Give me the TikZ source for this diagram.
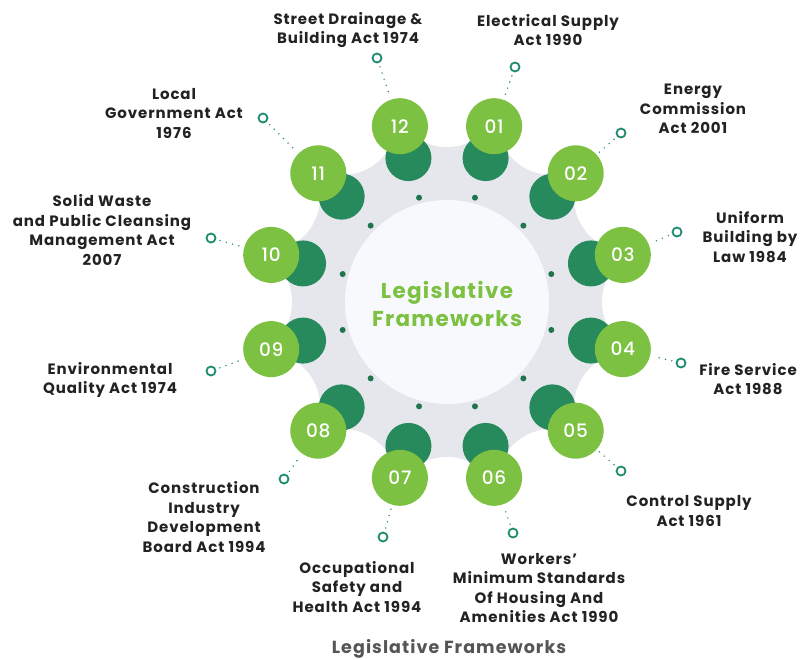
\documentclass[tikz,border=0pt]{standalone}
\usepackage{fontspec}
\usetikzlibrary{calc}
\setmainfont{Poppins}
\newfontfamily\lblfont{Poppins}[LetterSpace=6]
\newfontfamily\numfont{Poppins Medium}[LetterSpace=4]
\definecolor{lgreen}{HTML}{7DC142}
\definecolor{dgreen}{HTML}{268A5C}
\definecolor{gearg}{HTML}{E5E7ED}
\definecolor{innerw}{HTML}{F7F9FC}
\definecolor{teal}{HTML}{1F8C6F}
\definecolor{txt}{HTML}{222222}
\definecolor{titleg}{HTML}{555555}
\tikzset{
  darkc/.style={circle,fill=dgreen,minimum size=46pt,inner sep=0pt},
  lightc/.style={circle,fill=lgreen,minimum size=56pt,inner sep=0pt,text=white,font=\numfont\fontsize{18.5}{18.5}\selectfont},
  ringc/.style={circle,draw=teal,line width=1.8pt,fill=white,minimum size=9pt,inner sep=0pt},
  leader/.style={teal,line width=1.6pt,line cap=round,dash pattern=on 0pt off 6.5pt,shorten <=4pt,shorten >=3pt},
  lbl/.style={align=center,text=txt,font=\lblfont\bfseries\fontsize{15}{19.5}\selectfont},
  smalldot/.style={circle,fill=dgreen!85!black,minimum size=6pt,inner sep=0pt}
}
\begin{document}
\begin{tikzpicture}[x=1pt,y=-1pt]
\useasboundingbox (0,0) rectangle (810,659);
\coordinate (c) at (447,302);
% gear
\fill[gearg] (c) circle (178);
\foreach \a in {0,30,...,330}{
  \fill[white] ($(c)+({210*cos(\a)},{-210*sin(\a)})$) circle (55);
}
\fill[innerw] (c) circle (102);
\foreach \a in {15,45,...,345}{
  \node[smalldot] at ($(c)+({108*cos(\a)},{-108*sin(\a)})$) {};
}
% circles
\foreach \n/\a in {01/75,02/45,03/15,04/-15,05/-45,06/-75,07/-105,08/-135,09/-165,10/165,11/135,12/105}{
  \node[darkc] (d\n) at ($(c)+({149*cos(\a)},{-149*sin(\a)})$) {};
}
\foreach \n/\a in {01/75,02/45,03/15,04/-15,05/-45,06/-75,07/-105,08/-135,09/-165,10/165,11/135,12/105}{
  \node[lightc] (l\n) at ($(c)+({182*cos(\a)},{-182*sin(\a)})$) {\n};
}
% rings
\node[ringc] (r01) at (515,67) {};
\node[ringc] (r02) at (621,133) {};
\node[ringc] (r03) at (677,232) {};
\node[ringc] (r04) at (681,363) {};
\node[ringc] (r05) at (621,471) {};
\node[ringc] (r06) at (513,533) {};
\node[ringc] (r07) at (383,537) {};
\node[ringc] (r08) at (284,479) {};
\node[ringc] (r09) at (211,371) {};
\node[ringc] (r10) at (211,238) {};
\node[ringc] (r11) at (263,118) {};
\node[ringc] (r12) at (377,58) {};
\foreach \n in {01,02,03,04,05,06,07,08,09,10,11,12}{
  \draw[leader] (r\n) -- (l\n);
}
% center text
\node[font=\lblfont\bfseries\fontsize{21.5}{28}\selectfont,text=lgreen,align=center] (ctitle) at (447,304) {Legislative\\Frameworks};
% labels
\node[lbl] (t12) at (348,30) {Street Drainage \&\\Building Act 1974};
\node[lbl] (t01) at (548,30) {Electrical Supply\\Act 1990};
\node[lbl] (t02) at (693,109) {Energy\\Commission\\Act 2001};
\node[lbl] (t03) at (750,237) {Uniform\\Building by\\Law 1984};
\node[lbl] (t04) at (748,379) {Fire Service\\Act 1988};
\node[lbl] (t05) at (689,511) {Control Supply\\Act 1961};
\node[lbl] (t06) at (539,588) {Workers’\\Minimum Standards\\Of Housing And\\Amenities Act 1990};
\node[lbl] (t07) at (357,587) {Occupational\\Safety and\\Health Act 1994};
\node[lbl] (t08) at (204,517) {Construction\\Industry\\Development\\Board Act 1994};
\node[lbl] (t09) at (110,380) {Environmental\\Quality Act 1974};
\node[lbl] (t10) at (102,230) {Solid Waste\\and Public Cleansing\\Management Act\\2007};
\node[lbl] (t11) at (174,113) {Local\\Government Act\\1976};
\node[font=\lblfont\bfseries\fontsize{17.5}{17.5}\selectfont,text=titleg,inner sep=0pt] (btitle) at (449,649) {Legislative Frameworks};
\end{tikzpicture}
\end{document}
